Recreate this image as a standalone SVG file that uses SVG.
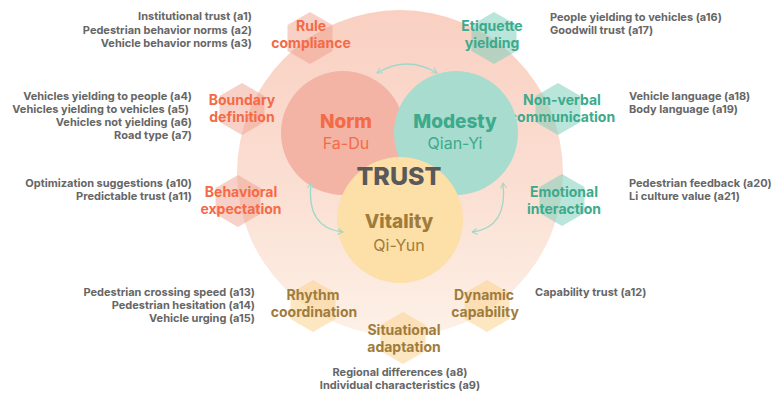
<svg xmlns="http://www.w3.org/2000/svg" width="773" height="393" viewBox="0 0 773 393">
  <defs>
    <linearGradient id="diskFill" x1="0" y1="0" x2="0" y2="1">
      <stop offset="0" stop-color="#f9d0c2"/>
      <stop offset="0.55" stop-color="#fbdfd3"/>
      <stop offset="1" stop-color="#fdf1e7"/>
    </linearGradient>
    <polygon id="hex" points="0,-26 22.5,-13 22.5,13 0,26 -22.5,13 -22.5,-13"/>
    <marker id="chev" viewBox="0 0 10 10" refX="8" refY="5" markerWidth="7" markerHeight="7" orient="auto-start-reverse" markerUnits="userSpaceOnUse">
      <path d="M1,1 L8,5 L1,9" fill="none" stroke="#9fd8cb" stroke-width="1.4" stroke-linecap="round" stroke-linejoin="round"/>
    </marker>
  </defs>
  <style>
    text { font-family: Inter, "Liberation Sans", sans-serif; }
    .attr { font-size: 11px; font-weight: 700; fill: #666666; }
    .hl { font-size: 14px; font-weight: 700; text-anchor: middle; }
    .red { fill: #f46a47; }
    .teal { fill: #3caa8c; }
    .gold { fill: #a07c3c; }
    .hex-red { fill: #ee9a85; fill-opacity: 0.45; }
    .hex-teal { fill: #7fd0bb; fill-opacity: 0.55; }
    .hex-gold { fill: #fccf88; fill-opacity: 0.5; }
    .title { font-size: 19px; font-weight: 800; text-anchor: middle; }
    .sub { font-size: 16px; font-weight: 400; text-anchor: middle; }
    .link { fill: none; stroke: #9fd8cb; stroke-width: 1.3; marker-start: url(#chev); marker-end: url(#chev); }
  </style>

  <rect width="773" height="393" fill="#ffffff"/>

  <!-- outer trust disk -->
  <g id="trust-disk">
    <circle cx="400" cy="173" r="163" fill="url(#diskFill)"/>
  </g>

  <!-- dimension hexagons -->
  <g id="rule-compliance">
    <use href="#hex" x="310" y="38" class="hex-red"/>
    <text class="hl red" x="311" y="31">Rule</text>
    <text class="hl red" x="311" y="48">compliance</text>
  </g>
  <g id="boundary-definition">
    <use href="#hex" x="242" y="109" class="hex-red"/>
    <text class="hl red" x="242" y="105">Boundary</text>
    <text class="hl red" x="242" y="122">definition</text>
  </g>
  <g id="behavioral-expectation">
    <use href="#hex" x="238" y="201" class="hex-red"/>
    <text class="hl red" x="241" y="197">Behavioral</text>
    <text class="hl red" x="241" y="214">expectation</text>
  </g>
  <g id="etiquette-yielding">
    <use href="#hex" x="494" y="38" class="hex-teal"/>
    <text class="hl teal" x="492" y="31">Etiquette</text>
    <text class="hl teal" x="492" y="48">yielding</text>
  </g>
  <g id="non-verbal-communication">
    <use href="#hex" x="558" y="109" class="hex-teal"/>
    <text class="hl teal" x="562" y="105">Non-verbal</text>
    <text class="hl teal" x="562" y="122">communication</text>
  </g>
  <g id="emotional-interaction">
    <use href="#hex" x="562" y="200" class="hex-teal"/>
    <text class="hl teal" x="564" y="197">Emotional</text>
    <text class="hl teal" x="564" y="214">interaction</text>
  </g>
  <g id="rhythm-coordination">
    <use href="#hex" x="313" y="306" class="hex-gold"/>
    <text class="hl gold" x="313" y="300">Rhythm</text>
    <text class="hl gold" x="314" y="317">coordination</text>
  </g>
  <g id="dynamic-capability">
    <use href="#hex" x="487" y="306" class="hex-gold"/>
    <text class="hl gold" x="484" y="300">Dynamic</text>
    <text class="hl gold" x="485" y="317">capability</text>
  </g>
  <g id="situational-adaptation">
    <use href="#hex" x="403" y="338" class="hex-gold"/>
    <text class="hl gold" x="404" y="335">Situational</text>
    <text class="hl gold" x="404" y="352">adaptation</text>
  </g>

  <!-- core circles -->
  <g id="norm">
    <circle cx="343" cy="133" r="62" fill="#f3b4a5"/>
    <text class="title red" x="346" y="128">Norm</text>
    <text class="sub red" x="346" y="149">Fa-Du</text>
  </g>
  <g id="modesty">
    <circle cx="456" cy="133" r="62" fill="#a8dccf"/>
    <text class="title teal" x="455" y="128">Modesty</text>
    <text class="sub teal" x="455" y="149">Qian-Yi</text>
  </g>
  <g id="vitality">
    <circle cx="400" cy="220" r="63" fill="#fddfa8"/>
    <text class="title gold" x="399" y="228">Vitality</text>
    <text class="sub gold" x="399" y="251">Qi-Yun</text>
  </g>
  <g id="trust-label">
    <text x="399" y="185" text-anchor="middle" font-size="25" font-weight="800" fill="#595959">TRUST</text>
  </g>

  <!-- connectors between the three cores -->
  <g id="connectors">
    <path class="link" d="M377,73 Q407,55 437,73"/>
    <path class="link" d="M311,183 Q306,228 343,232"/>
    <path class="link" d="M503,183 Q508,228 472,232"/>
  </g>

  <!-- observed attributes -->
  <g id="attrs-rule" class="attr" text-anchor="end">
    <text x="252" y="20">Institutional trust (a1)</text>
    <text x="252" y="34">Pedestrian behavior norms (a2)</text>
    <text x="252" y="47">Vehicle behavior norms (a3)</text>
  </g>
  <g id="attrs-boundary" class="attr" text-anchor="end">
    <text x="192" y="100">Vehicles yielding to people (a4)</text>
    <text x="189" y="113">Vehicles yielding to vehicles (a5)</text>
    <text x="192" y="126">Vehicles not yielding (a6)</text>
    <text x="192" y="139">Road type (a7)</text>
  </g>
  <g id="attrs-behavioral" class="attr" text-anchor="end">
    <text x="192" y="187">Optimization suggestions (a10)</text>
    <text x="192" y="200">Predictable trust (a11)</text>
  </g>
  <g id="attrs-etiquette" class="attr">
    <text x="550" y="21">People yielding to vehicles (a16)</text>
    <text x="550" y="34">Goodwill trust (a17)</text>
  </g>
  <g id="attrs-nonverbal" class="attr">
    <text x="629" y="100">Vehicle language (a18)</text>
    <text x="629" y="113">Body language (a19)</text>
  </g>
  <g id="attrs-emotional" class="attr">
    <text x="629" y="187">Pedestrian feedback (a20)</text>
    <text x="629" y="200">Li culture value (a21)</text>
  </g>
  <g id="attrs-rhythm" class="attr" text-anchor="end">
    <text x="255" y="296">Pedestrian crossing speed (a13)</text>
    <text x="255" y="309">Pedestrian hesitation (a14)</text>
    <text x="255" y="322">Vehicle urging (a15)</text>
  </g>
  <g id="attrs-dynamic" class="attr">
    <text x="535" y="296">Capability trust (a12)</text>
  </g>
  <g id="attrs-situational" class="attr" text-anchor="middle">
    <text x="400" y="376">Regional differences (a8)</text>
    <text x="400" y="389">Individual characteristics (a9)</text>
  </g>
</svg>
